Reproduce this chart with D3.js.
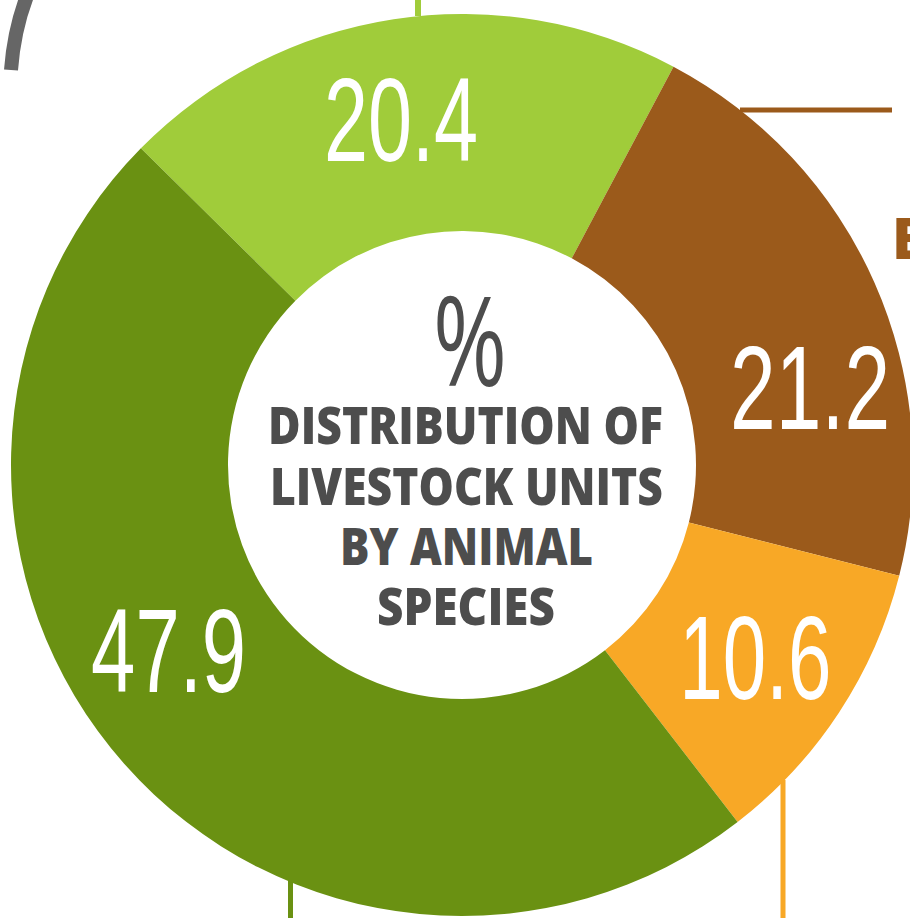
<!DOCTYPE html>
<html>
<head>
<meta charset="utf-8">
<script src="https://cdn.jsdelivr.net/npm/d3@7"></script>
<style>
  html, body { margin: 0; padding: 0; background: #fff; overflow: hidden; }
  svg { display: block; }
</style>
</head>
<body>
<svg width="910" height="918"></svg>
<script>
// chart data
const species = ["Other", "B", "Pigs", "Cattle"];
const shares = [20.4, 21.2, 10.6, 47.9];
const sliceColors = ["#a0cc3a", "#9b5a1b", "#f8a826", "#6a9112"];
const titleLines = ["DISTRIBUTION OF", "LIVESTOCK UNITS", "BY ANIMAL", "SPECIES"];

// layout
const W = 910, H = 918,
    cx = 462, cy = 465,
    outerR = 451, innerR = 234,
    a0 = -45.4 * Math.PI / 180;

// label nudges off the arc centroid [dx, dy], and drawn widths
const labelShift = [[-9, -8], [35, 60], [7, 4], [-37, -43]];
const labelWidth = [154, 160, 152, 155];

const svg = d3.select("svg");

// grey ring fragment at the top-left corner
svg.append("path")
    .attr("d", "M27,-4 Q14,30 11,70")
    .attr("fill", "none")
    .attr("stroke", "#666666")
    .attr("stroke-width", 14);

const pie = d3.pie().sort(null).startAngle(a0).endAngle(a0 + 2 * Math.PI);
const arc = d3.arc().innerRadius(innerR).outerRadius(outerR);
const arcs = pie(shares);

// leader lines
svg.append("line").attr("x1", 418).attr("x2", 418).attr("y1", 0).attr("y2", 16)
    .attr("stroke", sliceColors[0]).attr("stroke-width", 6);
svg.append("line").attr("x1", 740).attr("x2", 892).attr("y1", 110).attr("y2", 110)
    .attr("stroke", sliceColors[1]).attr("stroke-width", 5);
svg.append("line").attr("x1", 783).attr("x2", 783).attr("y1", 780).attr("y2", H)
    .attr("stroke", sliceColors[2]).attr("stroke-width", 5);
svg.append("line").attr("x1", 290.5).attr("x2", 290.5).attr("y1", 870).attr("y2", H)
    .attr("stroke", sliceColors[3]).attr("stroke-width", 5);

const g = svg.append("g").attr("transform", "translate(" + cx + "," + cy + ")");

g.selectAll("path.slice").data(arcs).enter().append("path")
    .attr("class", "slice")
    .attr("d", arc)
    .attr("fill", (d, i) => sliceColors[i]);

// value labels
const capH = 85;
g.selectAll("text.val").data(arcs).enter().append("text")
    .attr("class", "val")
    .attr("x", (d, i) => arc.centroid(d)[0] + labelShift[i][0])
    .attr("y", (d, i) => arc.centroid(d)[1] + labelShift[i][1] + capH / 2)
    .attr("text-anchor", "middle")
    .attr("textLength", (d, i) => labelWidth[i])
    .attr("lengthAdjust", "spacingAndGlyphs")
    .style("font-family", "'Liberation Sans', Arial, sans-serif")
    .style("font-size", "119px")
    .style("fill", "#fff")
    .text(d => d.data.toFixed(1));

// centre text
svg.append("text")
    .attr("x", 470).attr("y", 386)
    .attr("text-anchor", "middle")
    .attr("textLength", 74)
    .attr("lengthAdjust", "spacingAndGlyphs")
    .style("font-family", "'Open Sans', sans-serif")
    .style("font-weight", 400)
    .style("font-size", "124px")
    .style("fill", "#4d4d4d")
    .text("%");

const titleBase = [444, 505, 565, 625];
const titleX = [[268, 663], [270, 663], [340, 593], [377, 555]];
svg.selectAll("text.title").data(titleLines).enter().append("text")
    .attr("class", "title")
    .attr("x", (d, i) => (titleX[i][0] + titleX[i][1]) / 2)
    .attr("y", (d, i) => titleBase[i])
    .attr("text-anchor", "middle")
    .attr("textLength", (d, i) => titleX[i][1] - titleX[i][0])
    .attr("lengthAdjust", "spacingAndGlyphs")
    .style("font-family", "'Open Sans', sans-serif")
    .style("font-weight", 800)
    .style("font-size", "52px")
    .style("fill", "#4d4d4d")
    .text(d => d);

// cut-off category name on the right
svg.append("text")
    .attr("x", 892).attr("y", 259)
    .style("font-family", "'Open Sans', sans-serif")
    .style("font-weight", 800)
    .style("font-size", "57px")
    .style("fill", sliceColors[1])
    .text(species[1]);
</script>
</body>
</html>
